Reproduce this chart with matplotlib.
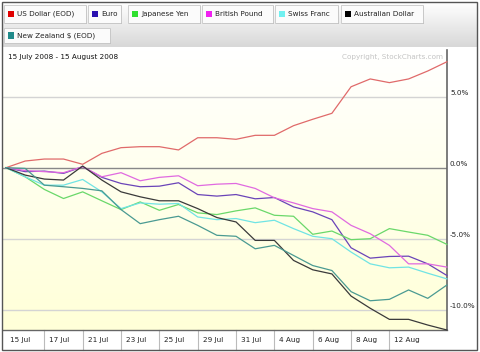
import numpy as np
import matplotlib
matplotlib.use("Agg")
import matplotlib.pyplot as plt
from matplotlib.patches import Rectangle
from matplotlib.transforms import blended_transform_factory, offset_copy
from matplotlib.colors import LinearSegmentedColormap

# ---------------- data ----------------
dates = ["15 Jul", "16 Jul", "17 Jul", "18 Jul", "21 Jul", "22 Jul", "23 Jul", "24 Jul",
         "25 Jul", "28 Jul", "29 Jul", "30 Jul", "31 Jul", "1 Aug", "4 Aug", "5 Aug",
         "6 Aug", "7 Aug", "8 Aug", "11 Aug", "12 Aug", "13 Aug", "14 Aug", "15 Aug"]
tick_labels = ["15 Jul", "17 Jul", "21 Jul", "23 Jul", "25 Jul", "29 Jul", "31 Jul",
               "4 Aug", "6 Aug", "8 Aug", "12 Aug"]

usd = [0.0, 0.47, 0.61, 0.61, 0.24, 1.01, 1.41, 1.48, 1.48, 1.25, 2.11, 2.11, 2.0, 2.28,
       2.28, 2.96, 3.41, 3.83, 5.70, 6.25, 5.99, 6.25, 6.81, 7.46]
eur = [0.0, -0.28, -0.24, -0.40, 0.07, -0.68, -1.11, -1.34, -1.30, -1.06, -1.89, -2.0,
       -1.89, -2.19, -2.10, -2.76, -3.11, -3.66, -5.64, -6.37, -6.25, -6.23, -6.77, -7.59]
jpy = [0.0, -0.64, -1.53, -2.17, -1.70, -2.33, -2.95, -2.41, -3.0, -2.59, -3.18, -3.30,
       -3.04, -2.83, -3.35, -3.42, -4.69, -4.46, -5.07, -5.0, -4.29, -4.53, -4.76, -5.40]
gbp = [0.0, -0.20, -0.28, -0.35, 0.07, -0.64, -0.35, -0.92, -0.68, -0.57, -1.27, -1.16,
       -1.11, -1.46, -2.12, -2.48, -2.88, -3.11, -4.06, -4.65, -5.47, -6.77, -6.77, -7.0]
chf = [0.0, -0.64, -1.23, -1.23, -0.83, -1.70, -2.88, -2.48, -2.57, -2.52, -3.47, -3.66,
       -3.58, -3.87, -3.70, -4.29, -4.83, -5.0, -5.94, -6.77, -7.05, -7.0, -7.43, -7.83]
aud = [0.0, -0.52, -0.80, -0.87, 0.12, -0.87, -1.70, -2.05, -2.33, -2.33, -2.88, -3.51,
       -3.82, -5.12, -5.12, -6.53, -7.19, -7.48, -9.04, -9.90, -10.68, -10.68, -11.08, -11.43]
nzd = [0.0, -0.05, -1.23, -1.34, -1.46, -1.63, -2.95, -3.94, -3.66, -3.42, -4.06, -4.76,
       -4.83, -5.71, -5.47, -6.18, -6.89, -7.24, -8.73, -9.37, -9.27, -8.61, -9.20, -8.26]

series_names = ["US Dollar (EOD)", "Euro", "Japanese Yen", "British Pound", "Swiss Franc",
                "Australian Dollar", "New Zealand $ (EOD)"]
series_values = [usd, eur, jpy, gbp, chf, aud, nzd]
line_colors = ["#e06a6a", "#6a44b8", "#6ad86a", "#e06ae0", "#70e4e4", "#3a3a3a", "#4a9a92"]
swatch_colors = ["#e00000", "#2a10b0", "#30e030", "#f020f0", "#70f0f0", "#000000", "#208a8a"]
y_levels = [5.0, 0.0, -5.0, -10.0]
y_level_labels = ["5.0%", "0.0%", "-5.0%", "-10.0%"]

# ---------------- figure ----------------
W, H = 480, 352
fig = plt.figure(figsize=(W / 100, H / 100), dpi=100)
fig.patch.set_facecolor("white")
FONT = "DejaVu Sans"
FS = 5.2


def fx(x):
    return x / W


def fy(y):
    return 1 - y / H


# legend band gradient (white -> light gray)
bg = fig.add_axes([fx(2), fy(47), fx(475), (47 - 2) / H])
bg.imshow(np.linspace(0, 1, 50).reshape(-1, 1), aspect="auto", extent=[0, 1, 0, 1],
          cmap=LinearSegmentedColormap.from_list("g", ["#ffffff", "#d8d8d8"]))
bg.set_axis_off()

# main axes
x0_px, x1_px, ytop_px, ybot_px = 3, 447, 50, 330
idx0_px, step_px = 6.0, 19.17
zero_px, pct_px = 167.7, 14.2
xmin = (x0_px - idx0_px) / step_px
xmax = (x1_px - idx0_px) / step_px
ymax = (zero_px - ytop_px) / pct_px
ymin = (zero_px - ybot_px) / pct_px

ax = fig.add_axes([fx(x0_px), fy(ybot_px), (x1_px - x0_px) / W, (ybot_px - ytop_px) / H])
ax.set_xlim(xmin, xmax)
ax.set_ylim(ymin, ymax)
ax.imshow(np.linspace(0, 1, 100).reshape(-1, 1), aspect="auto",
          extent=[xmin, xmax, ymin, ymax], zorder=0,
          cmap=LinearSegmentedColormap.from_list("y", ["#ffffff", "#ffffd8"]))
ax.set_xlim(xmin, xmax)
ax.set_ylim(ymin, ymax)

for lv in y_levels:
    ax.axhline(lv, color="#888888" if lv == 0 else "#d4d4d4", lw=1.0, zorder=1)

x = np.arange(len(dates))
for vals, c in zip(series_values, line_colors):
    ax.plot(x, vals, color=c, lw=0.9, zorder=3, clip_on=False)

ax.set_xticks([])
ax.set_yticks([])
for s in ["top", "left"]:
    ax.spines[s].set_visible(False)
ax.spines["right"].set_color("#666666")
ax.spines["right"].set_linewidth(1.2)
ax.spines["bottom"].set_color("#666666")
ax.spines["bottom"].set_linewidth(1.0)

# right axis labels
tr_r = blended_transform_factory(ax.transAxes, ax.transData)
for lv, lab in zip(y_levels, y_level_labels):
    ax.text(1.0, lv, lab, transform=offset_copy(tr_r, fig=fig, x=3, y=1, units="dots"),
            ha="left", va="bottom", fontsize=FS, family=FONT, color="#222222")

# x tick row
tr_b = blended_transform_factory(ax.transData, ax.transAxes)
row_h = (350 - ybot_px) / (ybot_px - ytop_px)
tick_idx = [dates.index(t) for t in tick_labels]
for i, lab in zip(tick_idx, tick_labels):
    if i > 0:
        ax.plot([i, i], [0, -row_h], transform=tr_b, color="#bbbbbb", lw=0.8, clip_on=False)
    ax.text(i, -row_h / 2, lab, transform=offset_copy(tr_b, fig=fig, x=3.5 if i == 0 else 5,
            y=0, units="dots"), ha="left", va="center", fontsize=FS, family=FONT, color="#222222")

# title & copyright
fig.text(fx(8), fy(57), "15 July 2008 - 15 August 2008", fontsize=FS, family=FONT,
         color="#111111", va="center", ha="left")
fig.text(fx(443), fy(57), "Copyright, StockCharts.com", fontsize=FS, family=FONT,
         color="#c4c4c4", va="center", ha="right")

# legend buttons
buttons = [(4, 86, 5, 23), (88, 121, 5, 23), (128, 200, 5, 23), (202, 273, 5, 23),
           (275, 338, 5, 23), (341, 423, 5, 23), (4, 110, 28, 43)]
for (bx0, bx1, by0, by1), name, sc in zip(buttons, series_names, swatch_colors):
    fig.patches.append(Rectangle((fx(bx0 + 1), fy(by1 + 1)), (bx1 - bx0) / W, (by1 - by0) / H,
                                 transform=fig.transFigure, facecolor="#9a9a9a",
                                 edgecolor="none", zorder=2))
    fig.patches.append(Rectangle((fx(bx0), fy(by1)), (bx1 - bx0) / W, (by1 - by0) / H,
                                 transform=fig.transFigure, facecolor="#fbfbfb",
                                 edgecolor="#c8c8c8", lw=0.6, zorder=3))
    cy = (by0 + by1) / 2
    fig.patches.append(Rectangle((fx(bx0 + 4), fy(cy + 3)), 6 / W, 6 / H,
                                 transform=fig.transFigure, facecolor=sc,
                                 edgecolor="none", zorder=4))
    fig.text(fx(bx0 + 13), fy(cy), name, fontsize=FS, family=FONT, color="#222222",
             va="center", ha="left", zorder=5)

# outer frame
fig.patches.append(Rectangle((fx(2), fy(350)), 475 / W, 348 / H, transform=fig.transFigure,
                             facecolor="none", edgecolor="#555555", lw=1.0, zorder=10))

fig.savefig("out.png", dpi=100)
